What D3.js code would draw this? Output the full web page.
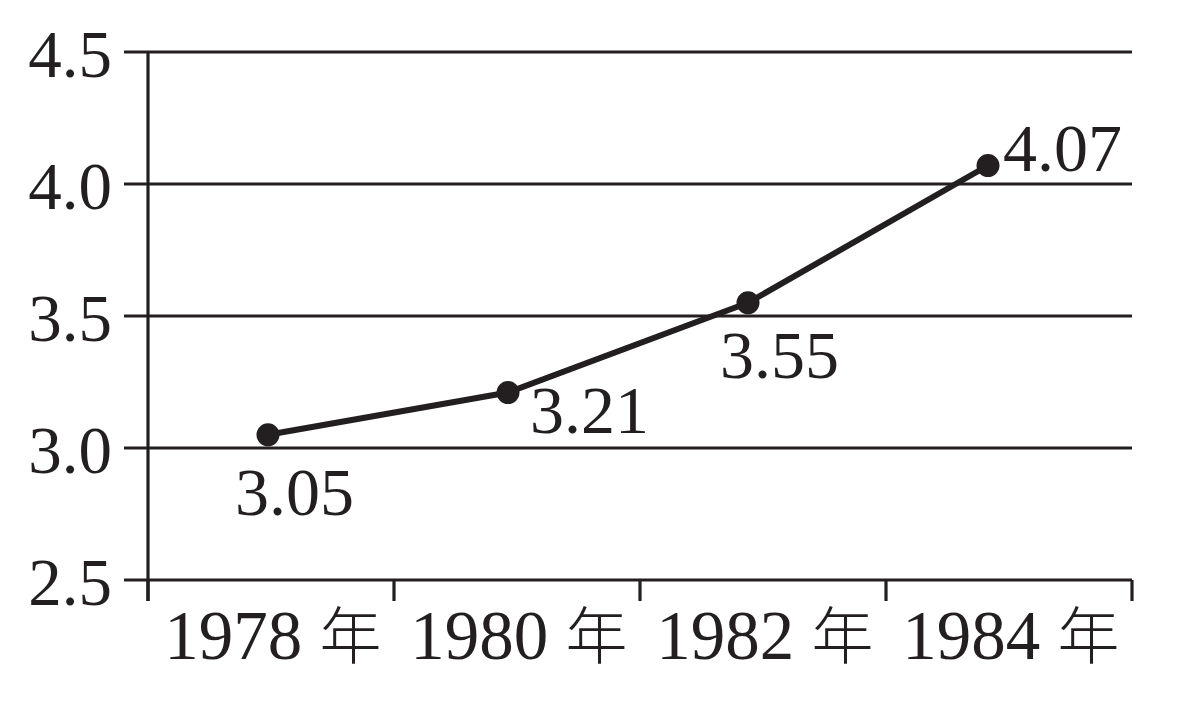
<!DOCTYPE html>
<html><head><meta charset="utf-8">
<script src="https://cdn.jsdelivr.net/npm/d3@7"></script>
<style>body{margin:0;background:#fff}svg{display:block}</style>
</head><body>
<svg id="c" width="1182" height="702"></svg>
<script>
const categories = ["1978 年", "1980 年", "1982 年", "1984 年"];
const values = [3.05, 3.21, 3.55, 4.07];
const valueLabels = ["3.05", "3.21", "3.55", "4.07"];
const yTicks = [2.5, 3.0, 3.5, 4.0, 4.5];
const yTickLabels = ["2.5", "3.0", "3.5", "4.0", "4.5"];

(function () {
const ink = "#231f20";
const serif = "'Liberation Serif','Times New Roman',serif";
const svg = d3.select("#c");
const mL = 148, mR = 1132, mT = 52, mB = 580;

const y = d3.scaleLinear().domain([2.5, 4.5]).range([mB, mT]);
const xb = d3.scaleBand().domain(categories).range([mL, mR]);
const xp = d3.scalePoint().domain(categories).range([268, 988]);

// gridlines with left ticks
svg.append("g").selectAll("line").data(yTicks).join("line")
  .attr("x1", mL - 24).attr("x2", mR)
  .attr("y1", d => y(d)).attr("y2", d => y(d))
  .attr("stroke", ink).attr("stroke-width", 3.2);

// y axis line
svg.append("line").attr("x1", mL).attr("x2", mL)
  .attr("y1", mT).attr("y2", mB + 21)
  .attr("stroke", ink).attr("stroke-width", 3.2);

// x ticks at band boundaries
const bounds = categories.map(c => xb(c)).concat([xb.range()[1]]);
svg.append("g").selectAll("line").data(bounds).join("line")
  .attr("x1", d => d).attr("x2", d => d)
  .attr("y1", mB).attr("y2", mB + 21)
  .attr("stroke", ink).attr("stroke-width", 3.2);

// y labels
svg.append("g").selectAll("text").data(yTicks).join("text")
  .attr("x", 112).attr("y", d => y(d) + 25)
  .attr("text-anchor", "end")
  .attr("font-family", serif).attr("font-size", 67).attr("fill", ink)
  .text((d, i) => yTickLabels[i]);

// x labels
const xl = svg.append("g").selectAll("text").data(categories).join("text")
  .attr("x", d => xb(d) + xb.bandwidth() / 2 + 2).attr("y", 659)
  .attr("text-anchor", "middle")
  .attr("font-family", serif).attr("font-size", 69).attr("fill", ink);
xl.each(function(d) {
  const parts = d.split(" ");
  const t = d3.select(this);
  t.append("tspan").text(parts[0] + " ");
  t.append("tspan").attr("font-family", "'Noto Sans CJK SC',sans-serif")
    .attr("font-weight", 300).attr("font-size", 62).text(parts[1]);
});

// line
const line = d3.line().x((d, i) => xp(categories[i])).y(d => y(d));
svg.append("path").datum(values).attr("d", line)
  .attr("fill", "none").attr("stroke", ink).attr("stroke-width", 6)
  .attr("stroke-linejoin", "round");

svg.append("g").selectAll("circle").data(values).join("circle")
  .attr("cx", (d, i) => xp(categories[i])).attr("cy", d => y(d))
  .attr("r", 11.5).attr("fill", ink);

// value labels
const offs = [[-33, 80], [22, 40], [-28, 75], [15, 5]];
svg.append("g").selectAll("text").data(values).join("text")
  .attr("x", (d, i) => xp(categories[i]) + offs[i][0])
  .attr("y", (d, i) => y(d) + offs[i][1])
  .attr("font-family", serif).attr("font-size", 68).attr("fill", ink)
  .text((d, i) => valueLabels[i]);
})();
</script>
</body></html>
